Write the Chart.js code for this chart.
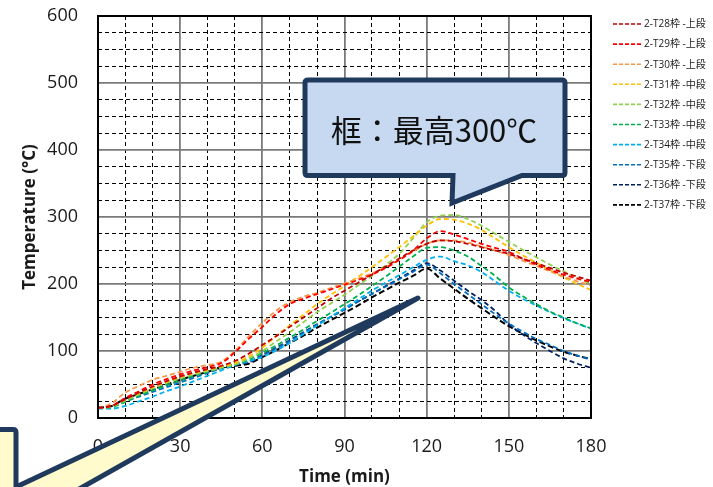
<!DOCTYPE html>
<html>
<head>
<meta charset="utf-8">
<script src="https://cdn.jsdelivr.net/npm/chart.js@4/dist/chart.umd.min.js"></script>
<style>
  html, body { margin: 0; padding: 0; background: #ffffff; }
  #wrap { width: 713px; height: 487px; position: relative; }
</style>
</head>
<body>
<div id="wrap"><canvas id="c" width="713" height="487"></canvas></div>
<script>
// Elapsed time (min), one reading every 5 minutes
const minutes = [0,5,10,15,20,25,30,35,40,45,50,55,60,65,70,75,80,85,90,95,100,105,110,115,120,125,130,135,140,145,150,155,160,165,170,175,180];

// Frame temperatures (°C) per thermocouple
const T28 = [15,18,28,38,47,55,62,68,73,78,85,96,109,122,136,150,164,178,190,202,214,226,238,250,260,265,264,260,255,250,245,238,231,224,217,211,205];
const T29 = [15,18,30,40,50,58,65,71,76,82,98,118,136,155,170,178,185,192,199,206,214,224,236,250,268,279,274,267,260,254,248,238,229,221,214,208,203];
const T30 = [15,22,38,48,57,63,69,75,79,84,100,122,142,160,173,181,187,194,201,208,216,225,236,248,260,265,265,262,256,250,243,235,227,219,211,204,198];
const T31 = [15,18,28,37,46,54,61,67,72,77,82,92,105,122,138,154,170,184,197,211,225,240,255,271,287,297,296,290,281,268,255,243,232,221,210,200,191];
const T32 = [15,17,26,35,44,52,59,65,70,75,80,89,100,114,128,143,158,171,184,198,212,228,245,268,292,302,303,297,287,275,263,251,240,229,219,209,200];
const T33 = [15,16,24,33,41,49,56,63,69,75,80,87,97,108,120,132,145,157,170,183,197,211,226,241,254,255,250,241,227,212,195,182,170,159,150,141,134];
const T34 = [14,14,18,25,32,40,47,55,63,71,79,85,91,101,112,125,138,151,164,177,190,202,213,225,236,241,234,228,218,204,190,178,168,158,149,141,133];
const T35 = [15,17,25,32,39,46,53,60,67,74,80,84,93,104,115,127,139,151,162,174,185,196,207,218,229,216,200,185,170,155,141,129,118,109,100,93,87];
const T36 = [15,18,27,35,42,49,56,63,70,76,80,83,94,105,116,128,140,151,162,174,185,197,208,220,231,220,205,190,176,160,140,125,112,100,89,81,75];
const T37 = [15,18,29,36,43,50,57,63,69,75,78,81,91,101,112,123,135,146,157,168,180,191,202,212,223,208,193,178,164,150,137,126,116,107,99,93,88];

const seriesNames = ['2-T28枠 -上段','2-T29枠 -上段','2-T30枠 -上段','2-T31枠 -中段','2-T32枠 -中段',
                     '2-T33枠 -中段','2-T34枠 -中段','2-T35枠 -下段','2-T36枠 -下段','2-T37枠 -下段'];
const seriesValues = [T28,T29,T30,T31,T32,T33,T34,T35,T36,T37];

// Tick values (labelled) and minor grid steps
const timeTicks = [0,30,60,90,120,150,180];
const tempTicks = [0,100,200,300,400,500,600];
const timeMinorStep = 10;
const tempMinorStep = 25;

// Line colours
const lineColors = ['#c00000','#ff0000','#f79646','#ffc000','#92d050','#00b050','#00b0f0','#0070c0','#002060','#000000'];

const FONT = "'Open Sans', 'Noto Sans CJK JP', sans-serif";
const TEXT = '#1a1a1a';
const NAVY = '#1f3a5c';

const datasets = seriesValues.map((vals, i) => ({
  label: seriesNames[i],
  data: vals.map((v, k) => ({ x: minutes[k], y: v })),
  borderColor: lineColors[i],
  backgroundColor: lineColors[i],
  borderWidth: i === 9 ? 2 : 1.8,
  borderDash: i === 9 ? [6, 3] : [5, 3],
  pointRadius: 0,
  fill: false,
  cubicInterpolationMode: 'monotone'
}));

// minor grid positions that do not sit on a labelled tick
function minorTicks(max, step, major) {
  const out = [];
  for (let v = step; v < max; v += step) if (!major.includes(v)) out.push({ value: v });
  return out;
}

const overlay = {
  id: 'overlay',
  afterDatasetsDraw(chart) {
    // black frame round the plot area
    const { ctx, chartArea: a } = chart;
    ctx.save();
    ctx.strokeStyle = '#000';
    ctx.lineWidth = 2;
    ctx.setLineDash([]);
    ctx.strokeRect(a.left, a.top, a.right - a.left, a.bottom - a.top);
    ctx.restore();
  },
  afterDraw(chart) {
    const ctx = chart.ctx;
    ctx.save();

    // legend on the right
    chart.data.datasets.forEach((ds, i) => {
      const y = 24 + i * 20.1;
      ctx.strokeStyle = ds.borderColor;
      ctx.lineWidth = 1.6;
      ctx.setLineDash([4, 2]);
      ctx.beginPath(); ctx.moveTo(613, y); ctx.lineTo(641, y); ctx.stroke();
      ctx.setLineDash([]);
      ctx.fillStyle = TEXT;
      ctx.font = "10px " + FONT;
      ctx.textAlign = 'left';
      ctx.textBaseline = 'middle';
      ctx.fillText(ds.label, 644, y + 0.5);
    });

    // speech bubble with the peak note
    ctx.lineJoin = 'miter';
    ctx.lineWidth = 5;
    ctx.strokeStyle = NAVY;
    ctx.fillStyle = '#c6d9f1';
    ctx.beginPath();
    ctx.moveTo(308, 80);
    ctx.lineTo(562, 80); ctx.quadraticCurveTo(565, 80, 565, 83);
    ctx.lineTo(565, 172.5); ctx.quadraticCurveTo(565, 175.5, 562, 175.5);
    ctx.lineTo(522, 175.5);
    ctx.lineTo(452, 203);
    ctx.lineTo(453, 175.5);
    ctx.lineTo(308, 175.5); ctx.quadraticCurveTo(305, 175.5, 305, 172.5);
    ctx.lineTo(305, 83); ctx.quadraticCurveTo(305, 80, 308, 80);
    ctx.closePath();
    ctx.fill(); ctx.stroke();
    ctx.fillStyle = '#111';
    ctx.font = "31px 'Noto Sans CJK JP', sans-serif";
    ctx.textAlign = 'center';
    ctx.textBaseline = 'middle';
    ctx.fillText('框：最高300℃', 434, 130);

    // pointer bubble coming in from the lower left
    ctx.lineJoin = 'round';
    ctx.fillStyle = '#fffbcc';
    ctx.beginPath();
    ctx.moveTo(-10, 429.5);
    ctx.lineTo(13, 429.5); ctx.quadraticCurveTo(16, 429.5, 16, 432.5);
    ctx.lineTo(16, 487);
    ctx.lineTo(418, 298);
    ctx.lineTo(72, 493);
    ctx.lineTo(-10, 493);
    ctx.closePath();
    ctx.fill(); ctx.stroke();

    ctx.restore();
  }
};

new Chart(document.getElementById('c'), {
  type: 'line',
  data: { datasets },
  options: {
    responsive: false,
    animation: false,
    events: [],
    layout: { padding: { top: 16, right: 122, bottom: 0, left: 0 } },
    plugins: { legend: { display: false }, tooltip: { enabled: false } },
    scales: {
      x: {
        type: 'linear', position: 'bottom', min: 0, max: 180,
        afterBuildTicks: s => { s.ticks = timeTicks.map(v => ({ value: v })); },
        ticks: { color: TEXT, font: { family: FONT, size: 18 }, padding: 18, maxRotation: 0 },
        grid: { color: '#7a7a7a', lineWidth: 1.8, drawTicks: false },
        border: { display: false },
        title: { display: true, text: 'Time (min)', color: TEXT, font: { family: FONT, size: 17, weight: 'bold' }, padding: { top: 0, bottom: 0 } },
        afterFit: s => { s.height = 69; s.paddingLeft = 0; s.paddingRight = 0; }
      },
      xMinor: {
        type: 'linear', position: 'bottom', min: 0, max: 180,
        afterBuildTicks: s => { s.ticks = minorTicks(180, timeMinorStep, timeTicks); },
        ticks: { display: false },
        grid: { drawTicks: false, lineWidth: 1, color: '#000' },
        border: { display: false, dash: [4, 3] },
        afterFit: s => { s.height = 0; }
      },
      y: {
        type: 'linear', position: 'left', min: 0, max: 600,
        afterBuildTicks: s => { s.ticks = tempTicks.map(v => ({ value: v })); },
        ticks: { color: TEXT, font: { family: FONT, size: 18 }, padding: 20 },
        grid: { color: '#7a7a7a', lineWidth: 1.8, drawTicks: false },
        border: { display: false },
        title: { display: true, text: 'Temperature (°C)', color: TEXT, font: { family: FONT, size: 17, weight: 'bold' }, padding: { top: 20, bottom: 0 } },
        afterFit: s => { s.width = 98; s.paddingTop = 0; s.paddingBottom = 0; }
      },
      yMinor: {
        type: 'linear', position: 'left', min: 0, max: 600,
        afterBuildTicks: s => { s.ticks = minorTicks(600, tempMinorStep, tempTicks); },
        ticks: { display: false },
        grid: { drawTicks: false, lineWidth: 1, color: '#000' },
        border: { display: false, dash: [4, 3] },
        afterFit: s => { s.width = 0; }
      }
    }
  },
  plugins: [overlay]
});
</script>
</body>
</html>
